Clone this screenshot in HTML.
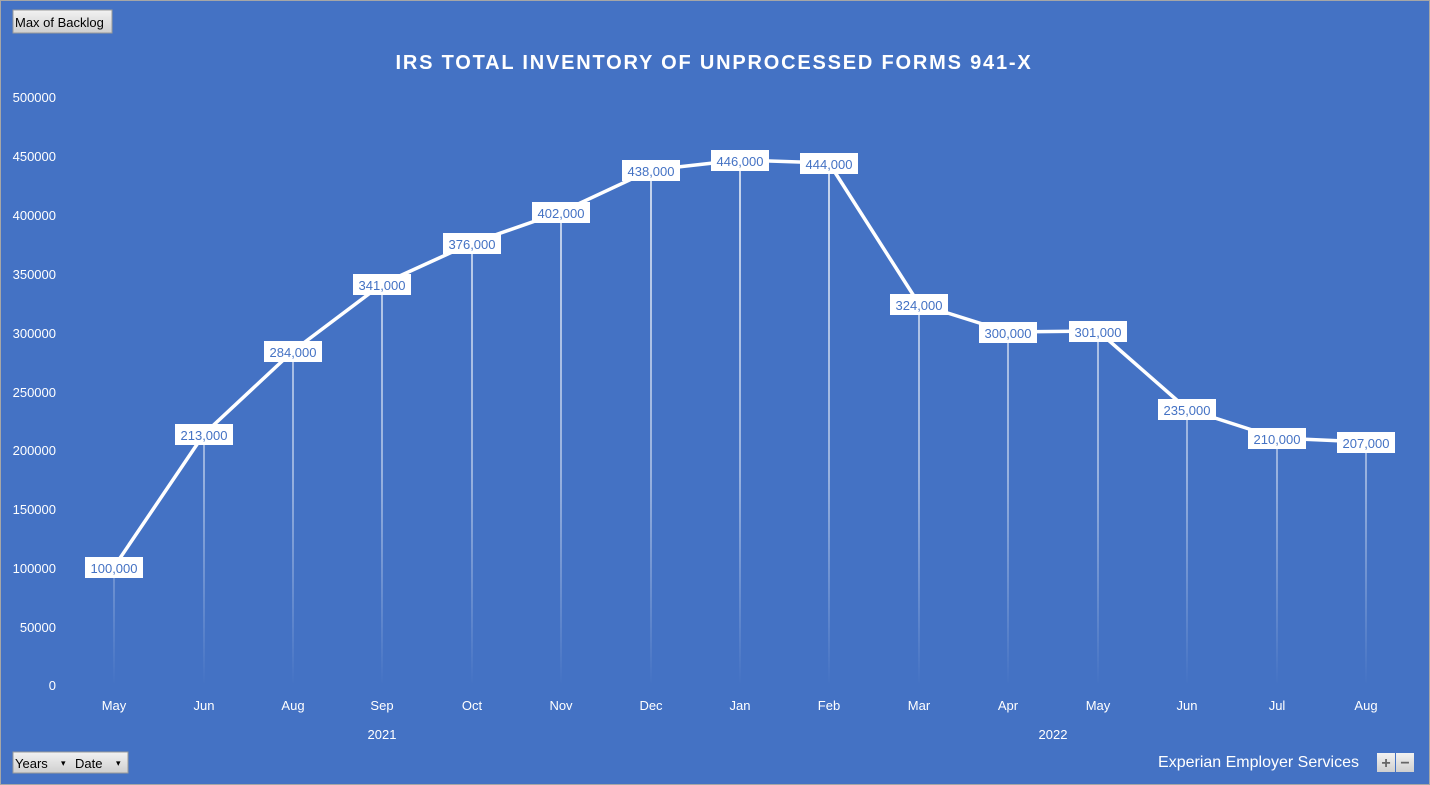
<!DOCTYPE html>
<html><head><style>
body{margin:0;background:#fff}
svg{display:block;font-family:"Liberation Sans",sans-serif}
</style></head><body>
<svg width="1430" height="785" xmlns="http://www.w3.org/2000/svg">
<defs>
<linearGradient id="g" gradientUnits="userSpaceOnUse" x1="0" y1="160" x2="0" y2="685">
<stop offset="0" stop-color="#fff" stop-opacity="0.95"/>
<stop offset="0.6" stop-color="#fff" stop-opacity="0.6"/>
<stop offset="1" stop-color="#fff" stop-opacity="0"/>
</linearGradient>
<linearGradient id="b" x1="0" y1="0" x2="0" y2="1">
<stop offset="0" stop-color="#f2f2f2"/><stop offset="1" stop-color="#cfcfcf"/>
</linearGradient>
</defs>
<rect x="0.5" y="0.5" width="1429" height="784" fill="#4472C4" stroke="#a6a6a6"/>
<rect x="13" y="10" width="99" height="23" fill="url(#b)" stroke="#999"/>
<text x="15" y="27" font-size="13" fill="#000">Max of Backlog</text>
<text x="714" y="69" font-size="20" font-weight="bold" fill="#fff" text-anchor="middle" letter-spacing="1.8">IRS TOTAL INVENTORY OF UNPROCESSED FORMS 941-X</text>
<g font-size="13" fill="#fff" text-anchor="end">
<text x="56" y="102">500000</text><text x="56" y="161">450000</text><text x="56" y="220">400000</text>
<text x="56" y="279">350000</text><text x="56" y="338">300000</text><text x="56" y="397">250000</text>
<text x="56" y="455">200000</text><text x="56" y="514">150000</text><text x="56" y="573">100000</text>
<text x="56" y="632">50000</text><text x="56" y="690">0</text>
</g>
<g stroke="url(#g)" stroke-width="1.5">
<line x1="114" y1="567" x2="114" y2="685"/><line x1="204" y1="434" x2="204" y2="685"/>
<line x1="293" y1="351" x2="293" y2="685"/><line x1="382" y1="284" x2="382" y2="685"/>
<line x1="472" y1="243" x2="472" y2="685"/><line x1="561" y1="212" x2="561" y2="685"/>
<line x1="651" y1="170" x2="651" y2="685"/><line x1="740" y1="160" x2="740" y2="685"/>
<line x1="829" y1="163" x2="829" y2="685"/><line x1="919" y1="304" x2="919" y2="685"/>
<line x1="1008" y1="332" x2="1008" y2="685"/><line x1="1098" y1="331" x2="1098" y2="685"/>
<line x1="1187" y1="409" x2="1187" y2="685"/><line x1="1277" y1="438" x2="1277" y2="685"/>
<line x1="1366" y1="442" x2="1366" y2="685"/>
</g>
<polyline fill="none" stroke="#fff" stroke-width="3.5" stroke-linejoin="round" points="114,567 204,434 293,351 382,284 472,243 561,212 651,170 740,160 829,163 919,304 1008,332 1098,331 1187,409 1277,438 1366,442"/>
<g font-size="13" fill="#4472C4" text-anchor="middle">
<g><rect x="85" y="557" width="58" height="21" fill="#fff"/><text x="114" y="573">100,000</text></g>
<g><rect x="175" y="424" width="58" height="21" fill="#fff"/><text x="204" y="440">213,000</text></g>
<g><rect x="264" y="341" width="58" height="21" fill="#fff"/><text x="293" y="357">284,000</text></g>
<g><rect x="353" y="274" width="58" height="21" fill="#fff"/><text x="382" y="290">341,000</text></g>
<g><rect x="443" y="233" width="58" height="21" fill="#fff"/><text x="472" y="249">376,000</text></g>
<g><rect x="532" y="202" width="58" height="21" fill="#fff"/><text x="561" y="218">402,000</text></g>
<g><rect x="622" y="160" width="58" height="21" fill="#fff"/><text x="651" y="176">438,000</text></g>
<g><rect x="711" y="150" width="58" height="21" fill="#fff"/><text x="740" y="166">446,000</text></g>
<g><rect x="800" y="153" width="58" height="21" fill="#fff"/><text x="829" y="169">444,000</text></g>
<g><rect x="890" y="294" width="58" height="21" fill="#fff"/><text x="919" y="310">324,000</text></g>
<g><rect x="979" y="322" width="58" height="21" fill="#fff"/><text x="1008" y="338">300,000</text></g>
<g><rect x="1069" y="321" width="58" height="21" fill="#fff"/><text x="1098" y="337">301,000</text></g>
<g><rect x="1158" y="399" width="58" height="21" fill="#fff"/><text x="1187" y="415">235,000</text></g>
<g><rect x="1248" y="428" width="58" height="21" fill="#fff"/><text x="1277" y="444">210,000</text></g>
<g><rect x="1337" y="432" width="58" height="21" fill="#fff"/><text x="1366" y="448">207,000</text></g>
</g>
<g font-size="13" fill="#fff" text-anchor="middle">
<text x="114" y="710">May</text><text x="204" y="710">Jun</text><text x="293" y="710">Aug</text>
<text x="382" y="710">Sep</text><text x="472" y="710">Oct</text><text x="561" y="710">Nov</text>
<text x="651" y="710">Dec</text><text x="740" y="710">Jan</text><text x="829" y="710">Feb</text>
<text x="919" y="710">Mar</text><text x="1008" y="710">Apr</text><text x="1098" y="710">May</text>
<text x="1187" y="710">Jun</text><text x="1277" y="710">Jul</text><text x="1366" y="710">Aug</text>
<text x="382" y="739">2021</text><text x="1053" y="739">2022</text>
</g>
<rect x="13" y="752" width="115" height="21" fill="url(#b)" stroke="#999"/>
<text x="15" y="768" font-size="13" fill="#000">Years</text>
<text x="61" y="766" font-size="9" fill="#000">▾</text>
<text x="75" y="768" font-size="13" fill="#000">Date</text>
<text x="116" y="766" font-size="9" fill="#000">▾</text>
<text x="1359" y="767" font-size="16" fill="#fff" text-anchor="end">Experian Employer Services</text>
<rect x="1377" y="753" width="18" height="19" fill="url(#b)"/>
<rect x="1396" y="753" width="18" height="19" fill="url(#b)"/>
<text x="1386" y="768" font-size="16" font-weight="bold" fill="#666" text-anchor="middle">+</text>
<text x="1405" y="768" font-size="16" font-weight="bold" fill="#666" text-anchor="middle">−</text>
</svg>
</body></html>
